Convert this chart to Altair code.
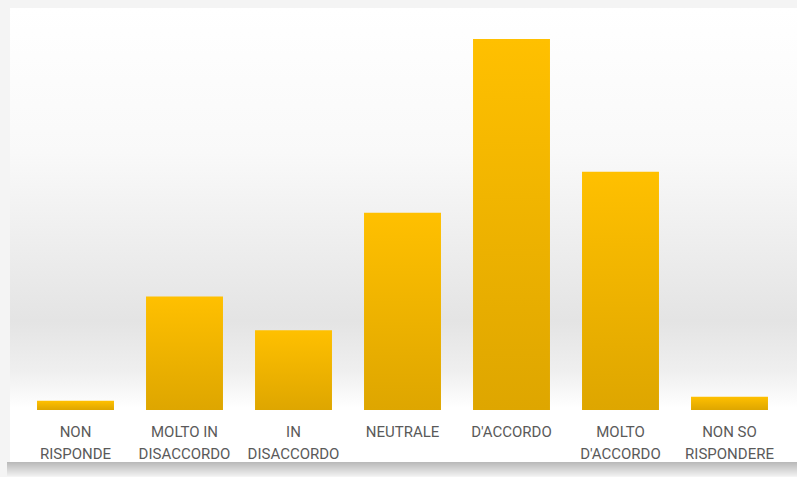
import altair as alt
import pandas as pd

categories = [
    "NON\nRISPONDE",
    "MOLTO IN\nDISACCORDO",
    "IN\nDISACCORDO",
    "NEUTRALE",
    "D'ACCORDO",
    "MOLTO\nD'ACCORDO",
    "NON SO\nRISPONDERE",
]
values = [0.9, 11.1, 7.8, 19.3, 36.3, 23.3, 1.3]

df = pd.DataFrame({"cat": categories, "val": values})

W, H = 763, 371

x_enc = alt.X(
    "cat:N",
    sort=categories,
    scale=alt.Scale(paddingInner=0.294, paddingOuter=0.147),
    axis=alt.Axis(
        title=None,
        labelAngle=0,
        labelExpr="split(datum.label, '\\n')",
        labelFont="Roboto",
        labelFontSize=15,
        labelColor="#5a5a5a",
        labelLineHeight=22,
        labelPadding=14,
        labelBaseline="top",
        ticks=False,
        domain=False,
        grid=False,
        zindex=2,
    ),
)
y_enc = alt.Y(
    "val:Q",
    scale=alt.Scale(domain=[0, 36.3], nice=False, zero=True),
    axis=None,
)

card_bg = alt.Chart(df.head(1)).mark_rect(
    color=alt.Gradient(
        gradient="linear",
        x1=0, x2=0, y1=0, y2=1,
        stops=[
            alt.GradientStop(offset=0, color="#ffffff"),
            alt.GradientStop(offset=0.32, color="#f9f9f9"),
            alt.GradientStop(offset=0.69, color="#e4e4e4"),
            alt.GradientStop(offset=0.8, color="#efefef"),
            alt.GradientStop(offset=0.88, color="#ffffff"),
            alt.GradientStop(offset=1, color="#ffffff"),
        ],
    )
).encode(
    x=alt.value(-11), x2=alt.value(W + 13), y=alt.value(-31), y2=alt.value(H + 52)
)

shadow = alt.Chart(df.head(1)).mark_rect(
    color=alt.Gradient(
        gradient="linear",
        x1=0, x2=0, y1=0, y2=1,
        stops=[
            alt.GradientStop(offset=0, color="#b8b8b8"),
            alt.GradientStop(offset=1, color="#f0f0f0"),
        ],
    )
).encode(
    x=alt.value(-14), x2=alt.value(W + 13), y=alt.value(H + 52), y2=alt.value(H + 66)
)

bars = alt.Chart(df).mark_bar(
    color=alt.Gradient(
        gradient="linear",
        x1=0, x2=0, y1=0, y2=1,
        stops=[
            alt.GradientStop(offset=0, color="#ffc000"),
            alt.GradientStop(offset=1, color="#dea600"),
        ],
    )
).encode(x=x_enc, y=y_enc)

chart = alt.layer(shadow, card_bg, bars).properties(
    width=W,
    height=H,
    autosize=alt.AutoSizeParams(type="none"),
    padding={"left": 21, "top": 39, "right": 13, "bottom": 67},
    background="#f4f4f4",
).configure_view(stroke=None)

chart.save("out.html", embed_options={"renderer": "svg", "actions": False})
